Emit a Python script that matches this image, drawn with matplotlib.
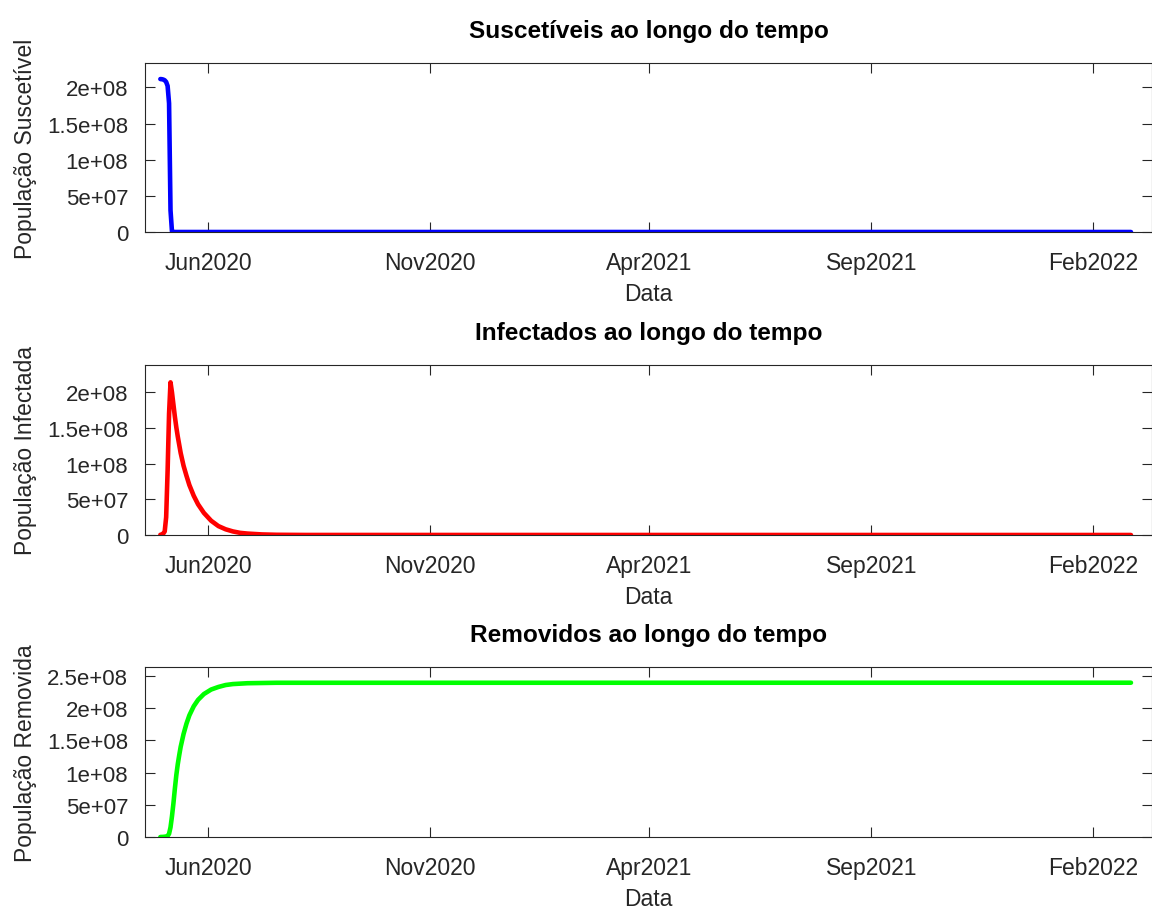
import datetime as dt
import matplotlib
matplotlib.use("Agg")
import matplotlib.pyplot as plt

# ---------------- data ----------------
start_date = dt.date(2020, 4, 29)

s_days = [0, 1, 2, 3, 4, 5, 6, 7, 8, 9, 669]
s_values = [211.5e6, 211.3e6, 210.8e6, 209.8e6, 207.5e6, 202e6, 178e6, 30e6, 1e6, 0, 0]

i_days = [0, 1, 2, 3, 4, 5, 6, 7, 8, 9, 10, 11, 12, 14, 16, 18, 20, 23, 26, 30, 35,
          40, 45, 50, 55, 60, 70, 80, 100, 669]
i_values = [0.3e6, 0.8e6, 2e6, 5e6, 25e6, 90e6, 170e6, 214e6, 200e6, 183e6, 166e6,
            151e6, 138e6, 115e6, 97e6, 83e6, 70e6, 55e6, 43e6, 31e6, 20e6,
            12.5e6, 8e6, 5e6, 3e6, 2e6, 0.8e6, 0.3e6, 0.05e6, 0]

r_days = [0, 2, 4, 5, 6, 7, 8, 9, 10, 11, 12, 13, 14, 16, 18, 20, 23, 26, 30, 35,
          40, 45, 50, 60, 80, 669]
r_values = [0, 0.2e6, 0.8e6, 1.5e6, 5e6, 15e6, 32e6, 52e6, 75e6, 96e6, 113e6, 127e6,
            140e6, 160e6, 176e6, 189e6, 203e6, 213e6, 222e6, 229e6,
            233e6, 236e6, 237.5e6, 238.8e6, 239.5e6, 239.6e6]

x_tick_dates = [dt.date(2020, 6, 1), dt.date(2020, 11, 1), dt.date(2021, 4, 1),
                dt.date(2021, 9, 1), dt.date(2022, 2, 1)]
x_tick_labels = ["Jun2020", "Nov2020", "Apr2021", "Sep2021", "Feb2022"]

y_ticks_a = [0, 5e7, 1e8, 1.5e8, 2e8]
y_labels_a = ["0", "5e+07", "1e+08", "1.5e+08", "2e+08"]
y_ticks_b = [0, 5e7, 1e8, 1.5e8, 2e8, 2.5e8]
y_labels_b = ["0", "5e+07", "1e+08", "1.5e+08", "2e+08", "2.5e+08"]

titles = ["Suscetíveis ao longo do tempo", "Infectados ao longo do tempo",
          "Removidos ao longo do tempo"]
ylabels = ["População Suscetível", "População Infectada", "População Removida"]
xlabel = "Data"

# ---------------- style ----------------
plt.rcParams["font.family"] = ["Liberation Sans", "DejaVu Sans"]
TXT = "#262626"

W, H = 1152, 912
fig = plt.figure(figsize=(W / 100, H / 100), dpi=100)
fig.patch.set_facecolor("white")

# axes boxes in pixels: (top, bottom)
boxes = [(64, 233), (366, 536), (668, 838)]
left_px, right_px = 145, 1152
ylims = [2.337e8, 2.383e8, 2.64e8]

series = [
    (s_days, s_values, "#0000ff", y_ticks_a, y_labels_a),
    (i_days, i_values, "#ff0000", y_ticks_a, y_labels_a),
    (r_days, r_values, "#00ff00", y_ticks_b, y_labels_b),
]

xlim_lo = dt.datetime(2020, 4, 18, 10)
xlim_hi = dt.datetime(2022, 3, 13, 12)

for k, ((top, bot), (days, vals, col, yt, yl)) in enumerate(zip(boxes, series)):
    ax = fig.add_axes([left_px / W, (H - bot) / H, (right_px - left_px) / W, (bot - top) / H])
    dates = [start_date + dt.timedelta(days=d) for d in days]
    ax.plot(dates, vals, color=col, linewidth=3.3, solid_capstyle="round",
            solid_joinstyle="round")
    ax.set_xlim(xlim_lo, xlim_hi)
    ax.set_ylim(0, ylims[k])
    ax.set_xticks(x_tick_dates)
    ax.set_xticklabels(x_tick_labels)
    ax.set_yticks(yt)
    ax.set_yticklabels(yl)
    ax.tick_params(direction="in", length=7, width=0.8, colors=TXT,
                   labelsize=16, top=True, right=True)
    ax.tick_params(axis="x", pad=13.5, labelsize=16.5)
    ax.tick_params(axis="y", pad=12)
    for sp in ax.spines.values():
        sp.set_color(TXT)
        sp.set_linewidth(0.8)
    ax.set_title(titles[k], fontsize=17.6, fontweight="bold", color="black", pad=19)
    ax.set_xlabel(xlabel, fontsize=16.5, color=TXT, labelpad=6)
    ax.set_ylabel(ylabels[k], fontsize=16.5, color=TXT, labelpad=7)

fig.savefig("out.png", dpi=100)
